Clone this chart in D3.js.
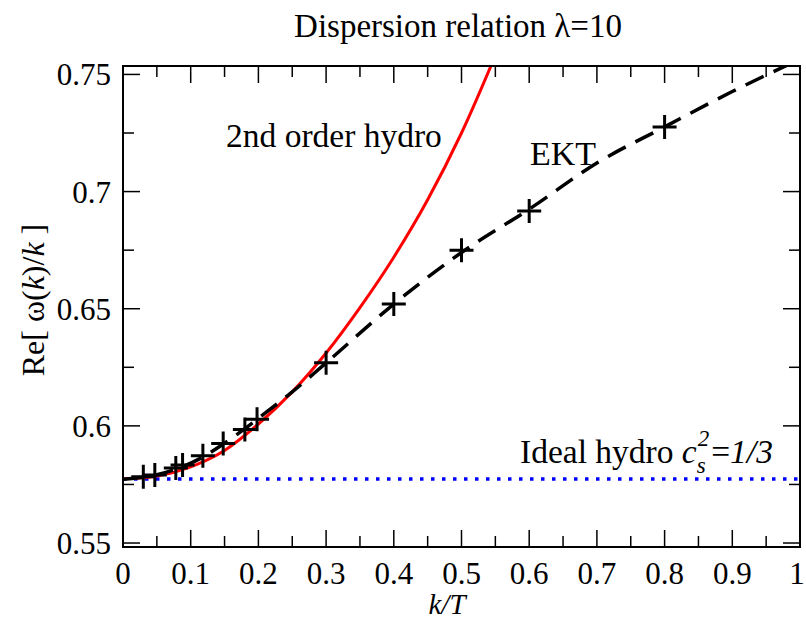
<!DOCTYPE html>
<html><head><meta charset="utf-8">
<script src="https://cdn.jsdelivr.net/npm/d3@7"></script>
<style>body{margin:0;background:#fff}svg{display:block}text{font-family:"Liberation Serif","Times New Roman",serif;fill:#000}</style>
</head><body><svg id="c" width="806" height="619"></svg>
<script>
// EKT data points (k/T, Re[w/k])
const ektK = [0.03, 0.047, 0.078, 0.088, 0.118, 0.148, 0.18, 0.198, 0.3, 0.4, 0.5, 0.6, 0.8];
const ektV = [0.5783, 0.579, 0.582, 0.5833, 0.5872, 0.5925, 0.5985, 0.6028, 0.6269, 0.652, 0.675, 0.6917, 0.7276];
// EKT dashed curve
const ektLineK = [0, 0.03, 0.047, 0.078, 0.088, 0.118, 0.148, 0.18, 0.198, 0.25, 0.3, 0.4, 0.5, 0.6, 0.7, 0.8, 0.9, 1.0];
const ektLineV = [0.5772, 0.5781, 0.5789, 0.5815, 0.5826, 0.5867, 0.5922, 0.5988, 0.6028, 0.6145, 0.6269, 0.652, 0.674, 0.6925, 0.7122, 0.7276, 0.7427, 0.7565];
// 2nd order hydro
const hydroK = [0, 0.05, 0.1, 0.15, 0.2, 0.25, 0.3, 0.35, 0.4, 0.45, 0.5, 0.56];
const hydroV = [0.5774, 0.5786, 0.5825, 0.5895, 0.6008, 0.6145, 0.6311, 0.6505, 0.672, 0.6965, 0.725, 0.765];
// Ideal hydro
const idealV = 1 / Math.sqrt(3);
const xTicks = [0, 0.1, 0.2, 0.3, 0.4, 0.5, 0.6, 0.7, 0.8, 0.9, 1];
const xTickLabels = ["0", "0.1", "0.2", "0.3", "0.4", "0.5", "0.6", "0.7", "0.8", "0.9", "1"];
const yTicks = [0.55, 0.6, 0.65, 0.7, 0.75];
const yTickLabels = ["0.55", "0.6", "0.65", "0.7", "0.75"];

const svg = d3.select("#c");
const L = 123, R = 800, T = 66, B = 547;
const x = d3.scaleLinear().domain([0, 1]).range([L, R]);
const y = d3.scaleLinear().domain([0.5483, 0.7536]).range([B, T]);

svg.append("clipPath").attr("id", "clip").append("rect")
  .attr("x", L).attr("y", T).attr("width", R - L).attr("height", B - T);
const g = svg.append("g").attr("clip-path", "url(#clip)");

// ideal hydro dotted
g.append("line").attr("x1", x(0)).attr("x2", x(1)).attr("y1", y(idealV)).attr("y2", y(idealV))
  .attr("stroke", "#0000ff").attr("stroke-width", 3.5).attr("stroke-dasharray", "3.5,7.5");

// 2nd order hydro
const hydroData = hydroK.map((k, i) => [k, hydroV[i]]);
g.append("path").datum(hydroData)
  .attr("d", d3.line().x(d => x(d[0])).y(d => y(d[1])).curve(d3.curveMonotoneX))
  .attr("fill", "none").attr("stroke", "#ff0000").attr("stroke-width", 3);

// EKT dashed
const ektLineData = ektLineK.map((k, i) => [k, ektLineV[i]]);
g.append("path").datum(ektLineData)
  .attr("d", d3.line().x(d => x(d[0])).y(d => y(d[1])).curve(d3.curveMonotoneX))
  .attr("fill", "none").attr("stroke", "#000").attr("stroke-width", 3.5).attr("stroke-dasharray", "20,11");

// EKT markers
const s = 12;
g.selectAll(".m").data(ektK.map((k, i) => [k, ektV[i]])).enter().append("path")
  .attr("d", d => `M${x(d[0]) - s},${y(d[1])}H${x(d[0]) + s}M${x(d[0])},${y(d[1]) - s}V${y(d[1]) + s}`)
  .attr("stroke", "#000").attr("stroke-width", 3).attr("fill", "none");

// frame
svg.append("rect").attr("x", L).attr("y", T).attr("width", R - L).attr("height", B - T)
  .attr("fill", "none").attr("stroke", "#000").attr("stroke-width", 2);

// ticks
const xMinor = d3.range(0.05, 1, 0.1);
const yMinor = [0.575, 0.625, 0.675, 0.725];
const tk = svg.append("g").attr("stroke", "#000").attr("stroke-width", 1.5);
xTicks.forEach(v => {
  tk.append("line").attr("x1", x(v)).attr("x2", x(v)).attr("y1", B).attr("y2", B - 17);
  tk.append("line").attr("x1", x(v)).attr("x2", x(v)).attr("y1", T).attr("y2", T + 17);
});
xMinor.forEach(v => {
  tk.append("line").attr("x1", x(v)).attr("x2", x(v)).attr("y1", B).attr("y2", B - 11);
  tk.append("line").attr("x1", x(v)).attr("x2", x(v)).attr("y1", T).attr("y2", T + 11);
});
yTicks.forEach(v => {
  tk.append("line").attr("x1", L).attr("x2", L + 17).attr("y1", y(v)).attr("y2", y(v));
  tk.append("line").attr("x1", R).attr("x2", R - 17).attr("y1", y(v)).attr("y2", y(v));
});
yMinor.forEach(v => {
  tk.append("line").attr("x1", L).attr("x2", L + 11).attr("y1", y(v)).attr("y2", y(v));
  tk.append("line").attr("x1", R).attr("x2", R - 11).attr("y1", y(v)).attr("y2", y(v));
});

// tick labels
xTicks.forEach((v, i) => {
  svg.append("text").attr("x", Math.min(x(v), 797)).attr("y", 584).attr("text-anchor", "middle")
    .attr("font-size", 31).text(xTickLabels[i]);
});
yTicks.forEach((v, i) => {
  svg.append("text").attr("x", 111).attr("y", y(v) + 11).attr("text-anchor", "end")
    .attr("font-size", 31).text(yTickLabels[i]);
});

// title
svg.append("text").attr("x", 458).attr("y", 37).attr("text-anchor", "middle").attr("font-size", 33)
  .text("Dispersion relation λ=10");

// x label
const xl = svg.append("text").attr("x", 447).attr("y", 614).attr("text-anchor", "middle").attr("font-size", 29);
xl.append("tspan").attr("font-style", "italic").text("k/T");

// y label
const yl = svg.append("text").attr("transform", "translate(44,300) rotate(-90)")
  .attr("text-anchor", "middle").attr("font-size", 32);
yl.append("tspan").text("Re[ ω(");
yl.append("tspan").attr("font-style", "italic").text("k");
yl.append("tspan").text(")/");
yl.append("tspan").attr("font-style", "italic").text("k");
yl.append("tspan").text(" ]");

// annotations
svg.append("text").attr("x", 226).attr("y", 147).attr("font-size", 33.5).text("2nd order hydro");
svg.append("text").attr("x", 530).attr("y", 165).attr("font-size", 34).text("EKT");
const it = svg.append("text").attr("x", 520).attr("y", 463).attr("font-size", 33.5);
it.append("tspan").text("Ideal hydro ");
it.append("tspan").attr("font-style", "italic").text("c");
it.append("tspan").attr("font-style", "italic").attr("font-size", 23).attr("dy", 10).text("s");
it.append("tspan").attr("font-style", "italic").attr("font-size", 23).attr("dx", -8).attr("dy", -27).text("2");
it.append("tspan").attr("dx", 2).attr("dy", 17).text("=");
it.append("tspan").attr("font-style", "italic").text("1/3");
</script></body></html>
